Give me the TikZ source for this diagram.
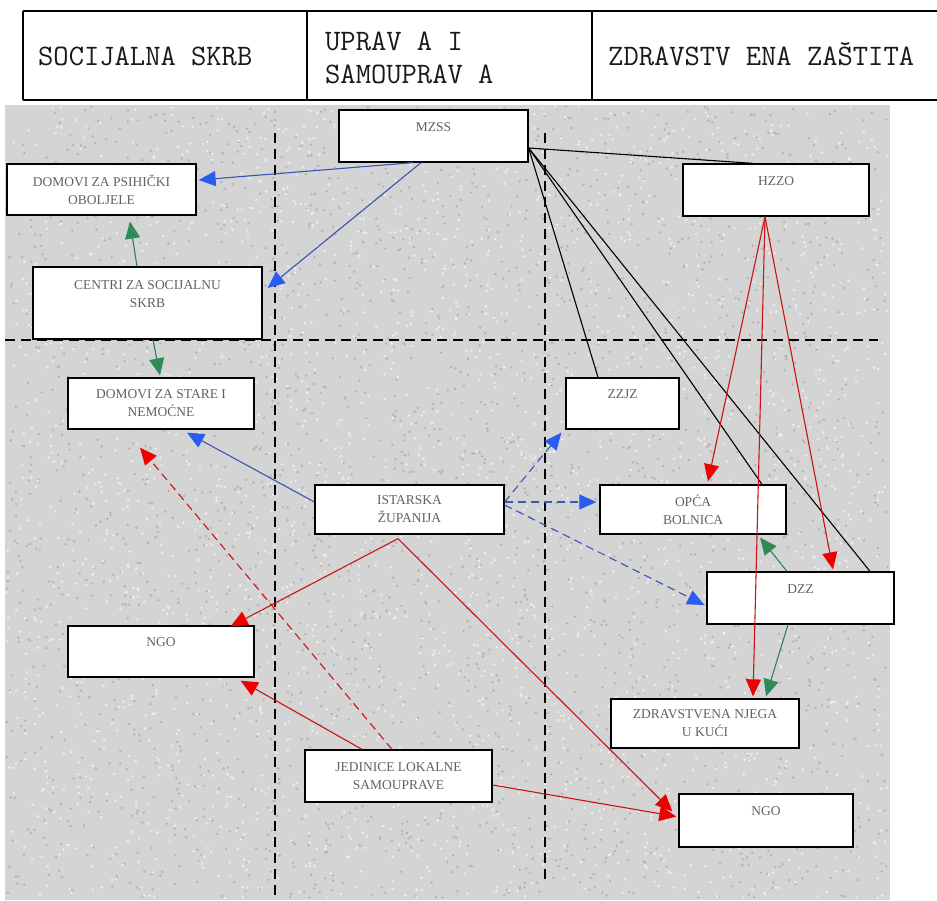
\documentclass[tikz,border=0pt]{standalone}
\usepackage{fontspec}
\setmainfont{Liberation Serif}
\usetikzlibrary{arrows.meta}
\definecolor{bgA}{HTML}{D4D4D4}
\definecolor{dotD}{HTML}{B5B5B5}
\definecolor{dotL}{HTML}{EEEEEE}
\definecolor{blueL}{HTML}{3A55B5}
\definecolor{blueA}{HTML}{2A5CF0}
\definecolor{redL}{HTML}{C81414}
\definecolor{redA}{HTML}{EE0000}
\definecolor{greenL}{HTML}{2F7F55}
\definecolor{greenA}{HTML}{2E8B57}
\begin{document}
\begin{tikzpicture}[x=1pt,y=-1pt,
  box/.style={draw=black, line width=1.3pt, fill=white, inner sep=0pt, align=center,
    font=\fontsize{13.5}{18}\selectfont, text=black!62},
  hdr/.style={font=\ttfamily\fontsize{29.7}{36}\selectfont, text=black!90, inner sep=0pt, anchor=base west},
  gridln/.style={black, line width=1.6pt, dash pattern=on 10pt off 6pt},
  tipB/.style={-{Triangle[length=17pt,width=15pt,color=blueA]}},
  bluecon/.style={draw=blueL, line width=1.1pt, tipB},
  bluedash/.style={draw=blueL, line width=1.1pt, dash pattern=on 8pt off 5pt, tipB},
  redcon/.style={draw=redL, line width=1.1pt, -{Triangle[length=17pt,width=15pt,color=redA]}},
  reddash/.style={redcon, dash pattern=on 8pt off 5pt},
  greencon/.style={draw=greenL, line width=1.1pt, -{Triangle[length=17pt,width=15pt,color=greenA]}},
  blackcon/.style={draw=black, line width=1.1pt}
]
\useasboundingbox (0,0) rectangle (937,900);
\fill[white] (0,0) rectangle (937,900);
% textured background
\fill[bgA] (5,105) rectangle (890,900);
\pgfmathsetseed{7}
\foreach \i in {1,...,2600}{
  \pgfmathsetmacro\xx{6+882*rnd}
  \pgfmathsetmacro\yy{106+792*rnd}
  \fill[dotD] (\xx,\yy) circle[radius=1.4pt];
}
\foreach \i in {1,...,2600}{
  \pgfmathsetmacro\xx{6+882*rnd}
  \pgfmathsetmacro\yy{106+792*rnd}
  \fill[dotL] (\xx,\yy) circle[radius=1.4pt];
}
% header table
\draw[line width=1.6pt] (23,11) -- (937,11);
\draw[line width=1.6pt] (23,100) -- (937,100);
\draw[line width=1.6pt] (23,11) -- (23,100);
\draw[line width=1.6pt] (307,11) -- (307,100);
\draw[line width=1.6pt] (592,11) -- (592,100);
\node[hdr] (h1) at (38,65) {SOCIJALNA SKRB};
\node[hdr] (h2a) at (325,50) {UPRAV A I};
\node[hdr] (h2b) at (325,83) {SAMOUPRAV A};
\node[hdr] (h3) at (608,65) {ZDRAVSTV ENA ZAŠTITA};
% dashed grid
\draw[gridln] (275,133) -- (275,900);
\draw[gridln] (545,133) -- (545,885);
\draw[gridln] (5,340) -- (878,340);
% boxes
\node[box, minimum width=189pt, minimum height=52pt] (mzss) at (433.5,136) {MZSS\\\mbox{}};
\node[box, minimum width=189pt, minimum height=51pt] (dps) at (101.5,189.5) {DOMOVI ZA PSIHIČKI\\OBOLJELE};
\node[box, minimum width=229pt, minimum height=72pt] (centri) at (147.5,303) {CENTRI ZA SOCIJALNU\\SKRB\\\mbox{}};
\node[box, minimum width=186pt, minimum height=51pt] (dst) at (161,403.5) {DOMOVI ZA STARE I\\NEMOĆNE};
\node[box, minimum width=189pt, minimum height=49pt] (ist) at (409.5,509.5) {ISTARSKA\\ŽUPANIJA};
\node[box, minimum width=113pt, minimum height=51pt] (zzjz) at (622.5,403.5) {ZZJZ\\\mbox{}};
\node[box, minimum width=186pt, minimum height=49pt] (opca) at (693,509.5) {OPĆA\\BOLNICA};
\node[box, minimum width=186pt, minimum height=52pt] (hzzo) at (776,190) {HZZO\\\mbox{}};
\node[box, minimum width=187pt, minimum height=52pt] (dzz) at (800.5,598) {DZZ\\\mbox{}};
\node[box, minimum width=188pt, minimum height=49pt] (znj) at (705,723.5) {ZDRAVSTVENA NJEGA\\U KUĆI};
\node[box, minimum width=174pt, minimum height=53pt] (ngor) at (766,820.5) {NGO\\\mbox{}};
\node[box, minimum width=186pt, minimum height=51pt] (ngol) at (161,651.5) {NGO\\\mbox{}};
\node[box, minimum width=187pt, minimum height=52pt] (jed) at (398.5,776) {JEDINICE LOKALNE\\SAMOUPRAVE};
% black lines from MZSS
\draw[blackcon] ([yshift=-12pt]mzss.east) -- ([xshift=-23pt]hzzo.north);
\draw[blackcon] ([yshift=-12pt]mzss.east) -- ([xshift=-24.5pt]zzjz.north);
\draw[blackcon] ([yshift=-12pt]mzss.east) -- ([xshift=69pt]opca.north);
\draw[blackcon] ([yshift=-12pt]mzss.east) -- ([xshift=69.5pt]dzz.north);
% blue
\draw[bluecon] ([xshift=-20.5pt]mzss.south) -- ([xshift=2pt,yshift=9.5pt]dps.east);
\draw[bluecon] ([xshift=-12.5pt]mzss.south) -- ([xshift=5pt,yshift=15pt]centri.east);
\draw[bluecon] ([yshift=7.5pt]ist.west) -- ([xshift=26pt,yshift=-3pt]dst.south);
\draw[bluedash] ([yshift=7.5pt]ist.east) -- ([xshift=-4pt,yshift=-3pt]zzjz.south west);
\draw[bluedash] ([yshift=7.5pt]ist.east) -- ([xshift=-3pt,yshift=7.5pt]opca.west);
\draw[bluedash] ([yshift=4.5pt]ist.east) -- ([xshift=-2pt,yshift=-7pt]dzz.west);
% red from HZZO
\draw[redcon] ([xshift=-11pt]hzzo.south) -- ([xshift=15pt,yshift=3pt]opca.north);
\draw[redcon] ([xshift=-11pt]hzzo.south) -- ([xshift=48pt,yshift=2pt]znj.north);
\draw[redcon] ([xshift=-11pt]hzzo.south) -- ([xshift=32.5pt,yshift=2pt]dzz.north);
% green
\draw[greencon] ([xshift=-10.5pt]centri.north) -- ([xshift=28.5pt,yshift=-6pt]dps.south);
\draw[greencon] ([xshift=5.5pt]centri.south) -- ([xshift=-1pt,yshift=2pt]dst.north);
\draw[greencon] ([xshift=-13.5pt]dzz.north) -- ([xshift=67pt,yshift=-3pt]opca.south);
\draw[greencon] ([xshift=-12.5pt]dzz.south) -- ([xshift=61pt,yshift=2pt]znj.north);
% red from Istarska and Jedinice
\draw[redcon] ([xshift=-11.5pt,yshift=-4pt]ist.south) -- ([xshift=-24pt,yshift=-1pt]ngol.north east);
\draw[redcon] ([xshift=-11.5pt,yshift=-4pt]ist.south) -- ([xshift=-6pt,yshift=9pt]ngor.west);
\draw[redcon] ([xshift=-36.5pt]jed.north) -- ([xshift=-14pt,yshift=-3pt]ngol.south east);
\draw[reddash] ([xshift=-6.5pt]jed.north) -- ([xshift=-21pt,yshift=-18pt]dst.south);
\draw[redcon] ([yshift=-9pt]jed.east) -- ([xshift=-2pt,yshift=4pt]ngor.west);
\end{tikzpicture}
\end{document}
